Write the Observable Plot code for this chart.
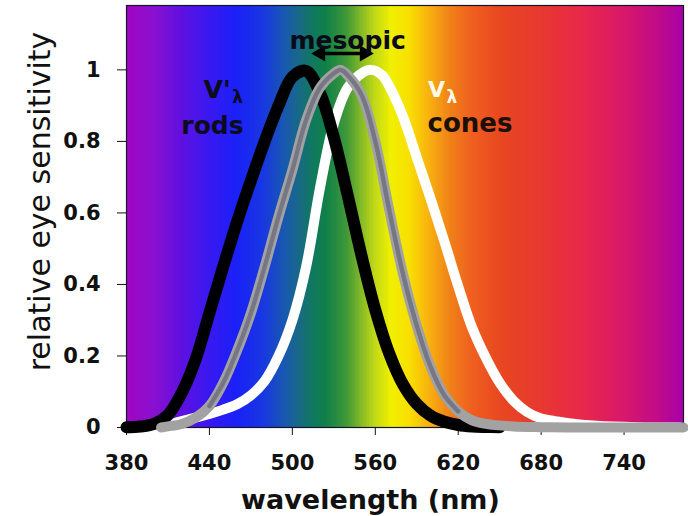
<!DOCTYPE html>
<html><head><meta charset="utf-8">
<script src="https://cdn.jsdelivr.net/npm/d3@7"></script>
<script src="https://cdn.jsdelivr.net/npm/@observablehq/plot@0.6"></script>
<style>html,body{margin:0;padding:0;background:#fff} svg{display:block}</style>
</head><body><div id="chart"></div>
<script>
// Scotopic (rods) V'λ
const rodsNm = [380,390,400,410,420,430,440,450,460,470,480,490,500,510,520,530,540,550,560,570,580,590,600,610,620,630,640,650];
const rodsV  = [0.001,0.003,0.01,0.035,0.097,0.19,0.32,0.45,0.575,0.69,0.8,0.9,0.98,0.997,0.935,0.811,0.65,0.481,0.329,0.208,0.121,0.066,0.033,0.016,0.007,0.003,0.0015,0.0007];
// Photopic (cones) Vλ
const conesNm = [400,410,420,430,440,450,460,470,480,490,500,510,520,530,540,550,557,565,570,580,590,600,610,620,630,640,650,660,670,680,690,700,720,750,780];
const conesV  = [0.004,0.008,0.018,0.028,0.038,0.05,0.065,0.09,0.13,0.2,0.3,0.45,0.67,0.85,0.95,0.99,1.0,0.985,0.955,0.87,0.755,0.64,0.52,0.395,0.28,0.195,0.125,0.075,0.043,0.025,0.018,0.012,0.005,0.001,0];
// Mesopic
const mesoNm = [405,410,420,430,440,450,460,470,480,490,500,510,520,530,535,540,550,560,570,580,590,600,610,620,630,640,660,680,700,783];
const mesoV  = [0,0.003,0.01,0.027,0.06,0.125,0.215,0.32,0.45,0.59,0.72,0.86,0.95,0.99,1.0,0.985,0.93,0.8,0.61,0.43,0.285,0.17,0.09,0.045,0.02,0.01,0.003,0.001,0,0];
// Spectrum background stops
const spectrumNm = [380,400,420,440,460,480,495,505,515,525,540,550,560,572,585,600,615,630,650,680,710,740,765,783];
const spectrumColor = ["#a004c0","#8a10d0","#6010e0","#3a18f0","#1a20f8","#1838e0","#1858b0","#186888","#107860","#108048","#409838","#80b828","#c0d818","#f0f000","#f8e000","#f8b010","#f08018","#f06020","#e84820","#e83830","#e8284a","#d81868","#c00c88","#a800a8"];
const xTicks = [380,440,500,560,620,680,740];
const yTicks = [0,0.2,0.4,0.6,0.8,1];

const spec = d3.scaleLinear().domain(spectrumNm).range(spectrumColor).interpolate(d3.interpolateRgb);
const bands = d3.range(380, 783).map(n => ({x1: n, x2: n + 1, c: spec(n + 0.5)}));
const rods = rodsNm.map((x, i) => ({x, v: rodsV[i]}));
const cones = conesNm.map((x, i) => ({x, v: conesV[i]}));
const meso = mesoNm.map((x, i) => ({x, v: mesoV[i]}));

const bold = {fontWeight: "bold", lineAnchor: "bottom"};
const plot = Plot.plot({
  width: 688, height: 516,
  marginLeft: 126, marginRight: 5, marginTop: 5, marginBottom: 89,
  x: {domain: [380, 783]},
  y: {domain: [0, 1.18]},
  color: {type: "identity"},
  style: {fontFamily: "DejaVu Sans", background: "#fff", overflow: "visible"},
  marks: [
    Plot.rect(bands, {x1: "x1", x2: "x2", fill: "c", stroke: "c", strokeWidth: 1, shapeRendering: "crispEdges"}),
    Plot.frame({stroke: "#15152a", strokeWidth: 1.2}),
    Plot.axisY({ticks: yTicks, tickFormat: d => String(d), tickSize: 9, tickPadding: 17, fontSize: 21, fontWeight: "bold", label: null, color: "#111"}),
    Plot.axisX({ticks: xTicks, tickFormat: d => String(d), tickSize: 8, tickPadding: 20, fontSize: 21, fontWeight: "bold", label: null, color: "#111"}),
    Plot.line(cones, {x: "x", y: "v", stroke: "#ffffff", strokeWidth: 10, curve: "catmull-rom", strokeLinecap: "round"}),
    Plot.line(rods, {x: "x", y: "v", stroke: "#000000", strokeWidth: 12, curve: "catmull-rom", strokeLinecap: "round"}),
    Plot.line(meso, {x: "x", y: "v", stroke: "#a2a2a2", strokeWidth: 10, curve: "catmull-rom", strokeLinecap: "round"}),
    Plot.line(meso.filter(d => d.v > 0.04), {x: "x", y: "v", stroke: "#4a4a66", strokeWidth: 4.5, strokeOpacity: 0.5, strokeDasharray: "2,2", curve: "catmull-rom"}),
    // mesopic arrow
    Plot.link([0], {x1: () => 520, x2: () => 552, y1: () => 1.046, y2: () => 1.046, stroke: "#000", strokeWidth: 3.5}),
    Plot.dot([0], {x: () => 520.4, y: () => 1.046, symbol: "triangle", r: 6, fill: "#000", rotate: -90}),
    Plot.dot([0], {x: () => 552.2, y: () => 1.046, symbol: "triangle", r: 6, fill: "#000", rotate: 90}),
    Plot.text(["mesopic"], {x: () => 540, y: () => 1.058, fontSize: 25, fill: "#0a0a18", ...bold}),
    Plot.text(["V'"], {x: () => 445.5, y: () => 0.922, fontSize: 25, fill: "#0c0c20", ...bold}),
    Plot.text(["λ"], {x: () => 456.5, y: () => 0.906, fontSize: 17, fill: "#0c0c20", textAnchor: "start", ...bold}),
    Plot.text(["rods"], {x: () => 442.2, y: () => 0.822, fontSize: 25, fill: "#0c0c20", ...bold}),
    Plot.text(["V"], {x: () => 604.3, y: () => 0.923, fontSize: 22, fill: "#fffbe8", ...bold}),
    Plot.text(["λ"], {x: () => 611.5, y: () => 0.906, fontSize: 17, fill: "#fffbe8", textAnchor: "start", ...bold}),
    Plot.text(["cones"], {x: () => 628.5, y: () => 0.825, fontSize: 26, fill: "#1a1008", ...bold}),
    // axis titles
    Plot.text(["wavelength (nm)"], {x: () => 556.5, frameAnchor: "bottom", dy: 81, fontSize: 27, fill: "#111", ...bold}),
    Plot.text(["relative eye sensitivity"], {y: () => 0.632, frameAnchor: "left", dx: -86, rotate: -90, fontSize: 30, fill: "#111", textAnchor: "middle", lineAnchor: "middle"})
  ]
});
document.getElementById("chart").append(plot);
</script>
</body></html>
